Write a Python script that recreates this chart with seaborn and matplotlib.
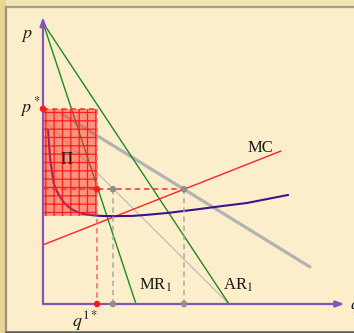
import matplotlib
matplotlib.use("Agg")
import matplotlib.pyplot as plt
from matplotlib.patches import Rectangle
from matplotlib.lines import Line2D
import seaborn as sns

# --- curves (quantity q, price p) ---
q_ar = [0, 62]
p_ar = [98, 0]
q_mr = [0, 31]
p_mr = [98, 0]
q_mc = [0, 79.3]
p_mc = [20.6, 53.3]
q_dem_old = [0, 62]
p_dem_old = [64.5, 0]
q_dem_wide = [6.3, 89]
p_dem_wide = [66.2, 12.9]
q_ac = [1.7, 2.0, 2.4, 3.0, 3.6, 4.5, 5.7, 7.0, 9.0, 11.0, 13.3, 16.0, 19.0, 24.0, 30.0, 35.0, 41.3, 52.3, 58.0, 68.0, 81.7]
p_ac = [60.6, 55.5, 50.5, 46.0, 42.0, 39.5, 37.3, 35.3, 33.4, 32.2, 31.4, 31.0, 30.7, 30.6, 30.7, 31.1, 31.7, 33.1, 33.9, 35.2, 38.0]

# --- equilibrium levels ---
q_star = 18
p_star = 68
ac_star = 30.7
mr_level = 40
q_old = 23.3
q_cross = 47

W, H = 354, 333
sns.set_style("white")
plt.rcParams["font.family"] = ["Liberation Serif", "DejaVu Serif"]
plt.rcParams["mathtext.fontset"] = "stix"
plt.rcParams["hatch.linewidth"] = 0.9

fig = plt.figure(figsize=(W / 100, H / 100), dpi=100)
fig.patch.set_facecolor("#F3E4B4")

# panel with border
fig.add_artist(Rectangle((6 / W, 1.5 / H), 1.0, (333 - 6.5 - 1.5) / H,
                         transform=fig.transFigure, facecolor="#FCEECB",
                         edgecolor="none", zorder=0))
fig.add_artist(Rectangle((0, 0), 5.5 / W, 1.0, transform=fig.transFigure,
                         facecolor="#E9D493", edgecolor="none", zorder=0))
fig.add_artist(Line2D([6 / W, 1], [(333 - 6.5) / H] * 2, transform=fig.transFigure,
                      color="#A69F8B", lw=1.6, zorder=1))
fig.add_artist(Line2D([6 / W] * 2, [1.5 / H, (333 - 6.5) / H], transform=fig.transFigure,
                      color="#9A9380", lw=1.6, zorder=1))
fig.add_artist(Line2D([6 / W, 1], [1.5 / H] * 2, transform=fig.transFigure,
                      color="#5F5B50", lw=1.8, zorder=1))

ax = fig.add_axes([43 / W, (333 - 304) / H, 300 / W, 287 / H])
ax.set_xlim(0, 100)
ax.set_ylim(0, 100)
ax.axis("off")
ax.patch.set_alpha(0)

def line(x, y, **kw):
    sns.lineplot(x=x, y=y, ax=ax, estimator=None, sort=False, legend=False, **kw)

line(q_dem_wide, p_dem_wide, color="#B3B3B3", linewidth=2.3, zorder=2)
line(q_dem_old, p_dem_old, color="#BDBDBD", linewidth=0.9, zorder=2)
line(q_ar, p_ar, color="#1E8A1E", linewidth=1.0, zorder=3)
line(q_mr, p_mr, color="#1E8A1E", linewidth=1.0, zorder=3)
line(q_mc, p_mc, color="#FF2323", linewidth=1.0, zorder=3)
line(q_ac, p_ac, color="#3F118C", linewidth=1.5, zorder=3)

# profit rectangle
ax.add_patch(Rectangle((0, ac_star), q_star, p_star - ac_star,
                       facecolor=(1.0, 0.22, 0.18, 0.5), edgecolor="#F52020",
                       hatch="++", linewidth=0, zorder=4))

# dashed guides
dash = dict(linestyle=(0, (3.5, 2.5)), linewidth=1.1, zorder=5)
line([0, q_star], [p_star, p_star], color="#FF2A2A", **dash)
line([q_star, q_star], [p_star, 0], color="#FF6060", **dash)
line([0, q_cross], [mr_level, mr_level], color="#FF2A2A", **dash)
line([q_old, q_old], [mr_level, 0], color="#A8A8A8", **dash)
line([q_cross, q_cross], [mr_level, 0], color="#A8A8A8", **dash)

# axes with arrows
axis_c = "#8653BD"
ax.annotate("", xy=(0, 100), xytext=(0, 0),
            arrowprops=dict(arrowstyle="-|>,head_length=0.5,head_width=0.18",
                            color=axis_c, lw=1.6, shrinkA=0, shrinkB=0),
            zorder=6, annotation_clip=False)
ax.annotate("", xy=(100.5, 0), xytext=(0, 0),
            arrowprops=dict(arrowstyle="-|>,head_length=0.5,head_width=0.18",
                            color=axis_c, lw=1.6, shrinkA=0, shrinkB=0),
            zorder=6, annotation_clip=False)

# points
sns.scatterplot(x=[0, q_star, q_star], y=[p_star, mr_level, 0], color="#FF1A1A",
                s=22, edgecolor="none", ax=ax, zorder=7, clip_on=False)
sns.scatterplot(x=[q_old, q_cross, q_old, q_cross], y=[mr_level, mr_level, 0, 0],
                color="#8E8E8E", s=22, edgecolor="none", ax=ax, zorder=7, clip_on=False)

# labels
fs = 12
tk = dict(ha="center", va="center", zorder=9, color="#1A1A1A")
ax.text(-5.3, 93.5, "$p$", fontsize=fs + 1, **tk)
ax.text(-4.3, 68.5, "$p^*$", fontsize=fs + 1, **tk)
ax.text(14, -5.8, "$q^{1*}$", fontsize=fs + 1, **tk)
ax.text(102.5, -1, "$q$", fontsize=fs + 1, ha="left", va="center", zorder=9, color="#1A1A1A")
ax.text(8, 50, r"$\Pi$", fontsize=fs, **tk)
ax.text(72.5, 54.5, "MC", fontsize=fs, **tk)
ax.text(37.5, 6.5, "MR$_1$", fontsize=fs, **tk)
ax.text(65, 6.5, "AR$_1$", fontsize=fs, **tk)

fig.savefig("out.png", dpi=100, facecolor=fig.get_facecolor())
